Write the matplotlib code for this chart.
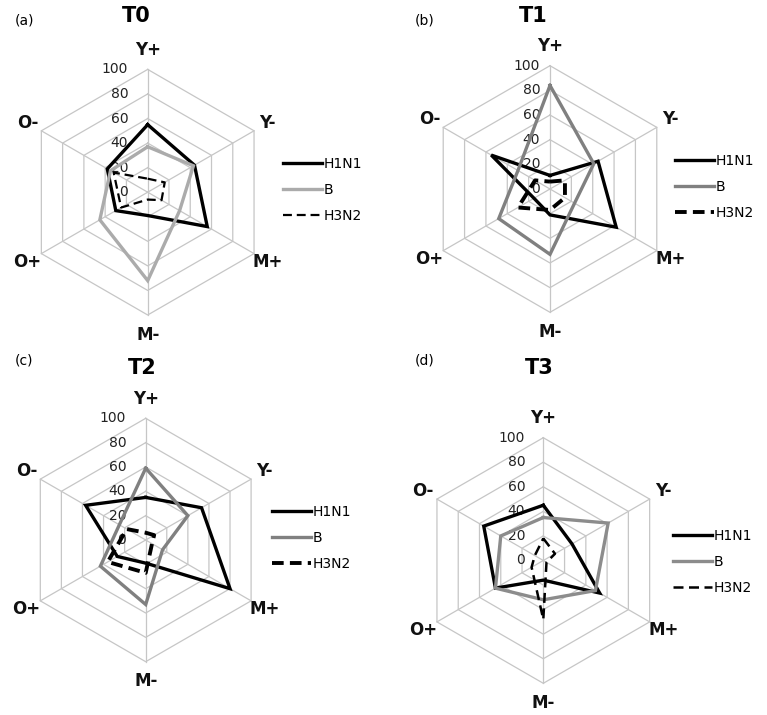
"""
Radar charts of H1N1 / B / H3N2 over T0..T3
"""
import matplotlib
matplotlib.use('Agg')
import matplotlib.pyplot as plt
import numpy as np

W, H = 767, 715

categories = ['Y+', 'Y-', 'M+', 'M-', 'O+', 'O-']
ticks = [0, 20, 40, 60, 80, 100]
series_names = ['H1N1', 'B', 'H3N2']

h1n1_t0 = [55, 44, 56, 19, 30, 38]
b_t0 = [37, 43, 30, 72, 45, 35]
h3n2_t0 = [11, 16, 13, 6, 25, 32]

h1n1_t1 = [11, 45, 62, 21, 15, 55]
b_t1 = [84, 41, 23, 53, 48, 30]
h3n2_t1 = [6, 14, 14, 17, 30, 14]

h1n1_t2 = [35, 53, 80, 19, 27, 57]
b_t2 = [59, 40, 16, 53, 43, 25]
h3n2_t2 = [6, 8, 6, 27, 36, 18]

h1n1_t3 = [45, 27, 53, 16, 45, 56]
b_t3 = [35, 61, 49, 32, 45, 40]
h3n2_t3 = [18, 11, 3, 48, 11, 8]

# panel: letter, title, data, layout in pixels, styles
panels = [
    dict(letter='(a)', title='T0', data=[h1n1_t0, b_t0, h3n2_t0],
         c=(147.7, 192.2), r=122.8, lab=(15, 20), tit=(136, 16), tick_off=-14,
         leg=(283, 190), b_col='#ababab', d_lw=1.6),
    dict(letter='(b)', title='T1', data=[h1n1_t1, b_t1, h3n2_t1],
         c=(550.0, 189.0), r=123.3, lab=(415, 20), tit=(533, 16), tick_off=-7,
         leg=(675, 187), b_col='#808080', d_lw=2.8),
    dict(letter='(c)', title='T2', data=[h1n1_t2, b_t2, h3n2_t2],
         c=(145.7, 540.0), r=121.7, lab=(15, 360), tit=(142, 368), tick_off=-14,
         leg=(272, 538), b_col='#808080', d_lw=2.8),
    dict(letter='(d)', title='T3', data=[h1n1_t3, b_t3, h3n2_t3],
         c=(543.3, 560.5), r=122.8, lab=(415, 360), tit=(539, 368), tick_off=-13,
         leg=(673, 562), b_col='#8c8c8c', d_lw=1.8),
]

theta = np.arange(len(categories)) * 2 * np.pi / len(categories)
theta_closed = np.append(theta, theta[0])

fig = plt.figure(figsize=(W / 100, H / 100), dpi=100)
fig.patch.set_facecolor('white')

for p in panels:
    cx, cy = p['c']
    rad = p['r']
    ax = fig.add_axes([(cx - rad) / W, 1 - (cy + rad) / H, 2 * rad / W, 2 * rad / H],
                      projection='polar')
    ax.set_theta_zero_location('N')
    ax.set_theta_direction(-1)
    ax.set_ylim(0, 100)
    ax.set_xticks([])
    ax.set_yticks([])
    ax.grid(False)
    ax.spines['polar'].set_visible(False)
    ax.patch.set_visible(False)

    # hexagonal grid
    for t in ticks[1:]:
        ax.plot(theta_closed, [t] * len(theta_closed), color='#c6c6c6', lw=0.9,
                clip_on=False, zorder=1)
    for th in theta:
        ax.plot([th, th], [0, 100], color='#c6c6c6', lw=0.9, clip_on=False, zorder=1)

    # tick labels along Y+ axis
    for t in ticks:
        ax.annotate(str(t), xy=(0, t), xytext=(p['tick_off'], 0),
                    textcoords='offset points', ha='right', va='center',
                    fontsize=10, color='#222222', zorder=2)

    # category labels
    for th, cat in zip(theta, categories):
        rr = 116 if cat in ('Y+', 'M-') else 113
        ax.text(th, rr, cat, ha='center', va='center', fontsize=12,
                fontweight='bold', color='#111111')

    h1, b, h3 = p['data']
    l1, = ax.plot(theta_closed, h1 + h1[:1], color='black', lw=2.4,
                  solid_joinstyle='miter', clip_on=False, zorder=3)
    l2, = ax.plot(theta_closed, b + b[:1], color=p['b_col'], lw=2.4,
                  solid_joinstyle='miter', clip_on=False, zorder=3)
    l3, = ax.plot(theta_closed, h3 + h3[:1], color='black', lw=p['d_lw'],
                  linestyle=(0, (3, 1.6)) if p['d_lw'] > 2 else (0, (4, 2.2)),
                  clip_on=False, zorder=3)

    lx, ly = p['leg']
    fig.legend([l1, l2, l3], series_names, loc='center left',
               bbox_to_anchor=(lx / W, 1 - ly / H), frameon=False, fontsize=10,
               handlelength=2.8, handletextpad=0.1, labelspacing=0.85,
               borderpad=0, borderaxespad=0)

    fig.text(p['lab'][0] / W, 1 - p['lab'][1] / H, p['letter'], ha='left',
             va='center', fontsize=10)
    fig.text(p['tit'][0] / W, 1 - p['tit'][1] / H, p['title'], ha='center',
             va='center', fontsize=15, fontweight='bold')

fig.savefig('out.png', dpi=100)
